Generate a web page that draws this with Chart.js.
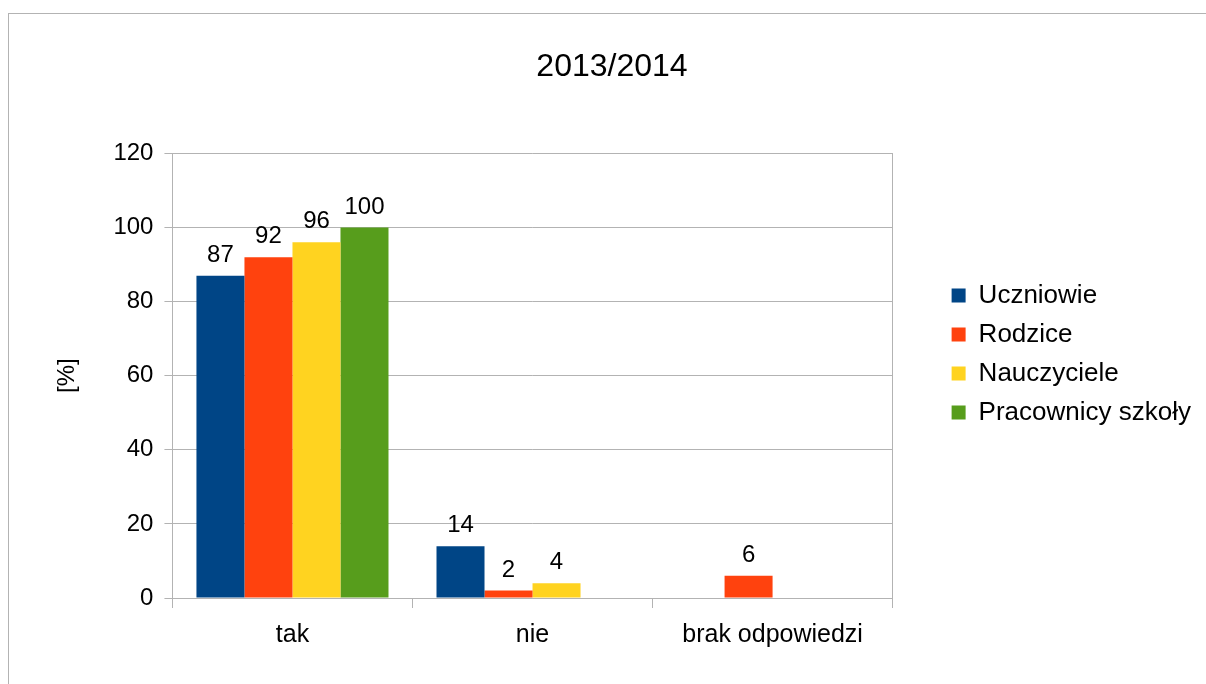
<!DOCTYPE html>
<html>
<head>
<meta charset="utf-8">
<script src="https://cdn.jsdelivr.net/npm/chart.js@4/dist/chart.umd.min.js"></script>
<style>
  html, body { margin: 0; padding: 0; background: #ffffff; }
  canvas { display: block; }
</style>
</head>
<body>
<canvas id="c" width="1206" height="684"></canvas>
<script>
const chartTitle = '2013/2014';
const categories = ['tak', 'nie', 'brak odpowiedzi'];
const seriesNames = ['Uczniowie', 'Rodzice', 'Nauczyciele', 'Pracownicy szkoły'];
const uczniowie = [87, 14, null];
const rodzice = [92, 2, 6];
const nauczyciele = [96, 4, null];
const pracownicy = [100, null, null];
const seriesColors = ['#004586', '#ff420e', '#ffd320', '#579d1c'];
const yTicks = { min: 0, max: 120, step: 20 };
const yAxisTitle = '[%]';

const FONT = "'Liberation Sans', Arial, sans-serif";
const GRID = '#b3b3b3';

const frame = {
  id: 'frame',
  beforeDraw(chart) {
    const ctx = chart.ctx;
    ctx.save();
    ctx.fillStyle = '#ffffff';
    ctx.fillRect(0, 0, chart.width, chart.height);
    ctx.strokeStyle = GRID;
    ctx.lineWidth = 1;
    ctx.strokeRect(8.5, 13.5, chart.width + 20, chart.height + 20);
    ctx.restore();
  }
};

const valueLabels = {
  id: 'valueLabels',
  afterDatasetsDraw(chart) {
    const ctx = chart.ctx;
    ctx.save();
    ctx.fillStyle = '#000000';
    ctx.font = '24px ' + FONT;
    ctx.textAlign = 'center';
    ctx.textBaseline = 'alphabetic';
    chart.data.datasets.forEach((ds, i) => {
      const meta = chart.getDatasetMeta(i);
      meta.data.forEach((bar, j) => {
        const v = ds.data[j];
        if (v === null || v === undefined) return;
        ctx.fillText(String(v), bar.x, bar.y - 14);
      });
    });
    ctx.restore();
  }
};

const allSeries = [uczniowie, rodzice, nauczyciele, pracownicy];

new Chart(document.getElementById('c'), {
  type: 'bar',
  data: {
    labels: categories,
    datasets: allSeries.map((d, i) => ({
      label: seriesNames[i],
      data: d,
      backgroundColor: seriesColors[i],
      borderWidth: 0,
      categoryPercentage: 0.8,
      barPercentage: 1.0
    }))
  },
  options: {
    responsive: false,
    animation: false,
    devicePixelRatio: 1,
    layout: { padding: { left: 23, right: 5, top: 0, bottom: 22 } },
    plugins: {
      title: {
        display: true,
        text: chartTitle,
        color: '#000000',
        font: { family: FONT, size: 32, weight: 'normal' },
        padding: { top: 48, bottom: 67 }
      },
      legend: {
        display: true,
        position: 'right',
        align: 'start',
        maxWidth: 320,
        title: { display: true, text: ' ', font: { size: 12 }, padding: { top: 0, bottom: 255 } },
        labels: {
          color: '#000000',
          font: { family: FONT, size: 26 },
          boxWidth: 14,
          boxHeight: 14,
          padding: 13
        }
      },
      tooltip: { enabled: false }
    },
    scales: {
      x: {
        offset: true,
        grid: { display: true, offset: true, drawOnChartArea: false, drawTicks: true, tickLength: 10, color: GRID },
        border: { display: true, color: GRID },
        ticks: { color: '#000000', font: { family: FONT, size: 25 }, padding: 12 }
      },
      y: {
        min: yTicks.min,
        max: yTicks.max,
        grid: { color: GRID, drawTicks: true, tickLength: 8 },
        border: { display: true, color: GRID },
        ticks: { stepSize: yTicks.step, color: '#000000', font: { family: FONT, size: 24 }, padding: 11 },
        title: {
          display: true,
          text: yAxisTitle,
          color: '#000000',
          font: { family: FONT, size: 24 },
          padding: { top: 29.6, bottom: 21 }
        }
      },
      y2: {
        position: 'right',
        display: true,
        grid: { display: false },
        ticks: { display: false },
        border: { display: true, color: GRID },
        afterFit(scale) { scale.width = 46; }
      }
    }
  },
  plugins: [frame, valueLabels]
});
</script>
</body>
</html>
